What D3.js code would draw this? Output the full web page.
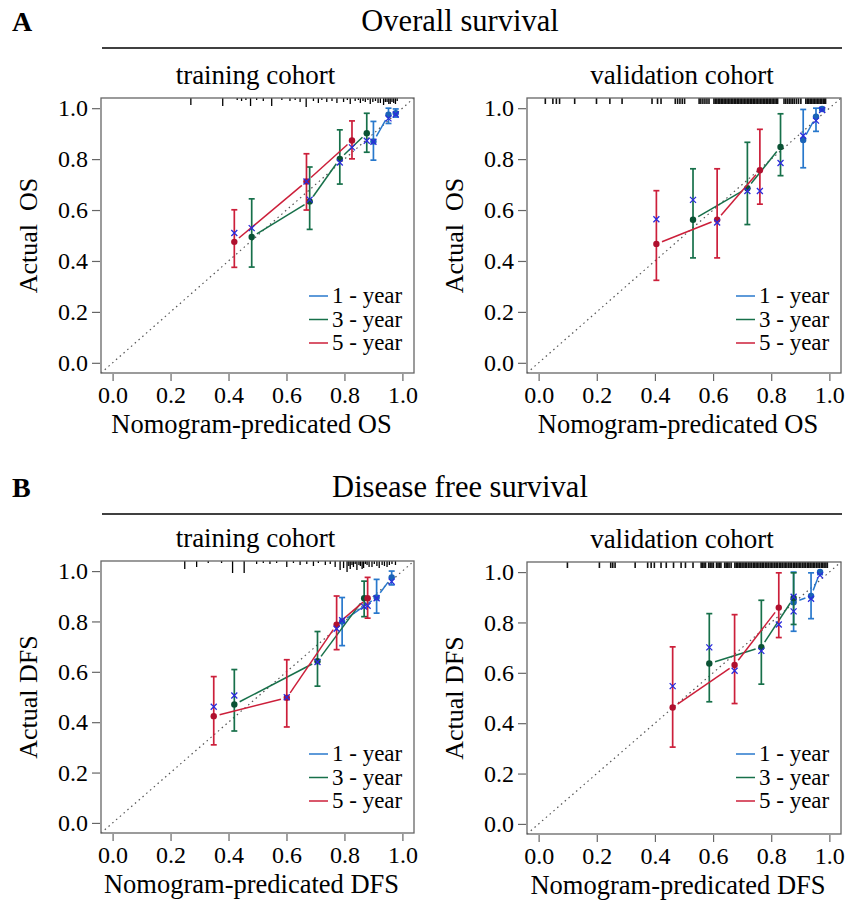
<!DOCTYPE html>
<html>
<head>
<meta charset="utf-8">
<script src="https://cdn.jsdelivr.net/npm/d3@7"></script>
<style>
body { margin: 0; background: #fff; }
text { font-family: "Liberation Serif", "Times New Roman", serif; fill: #000; }
</style>
</head>
<body>
<svg id="fig" width="846" height="913"></svg>
<script>
// rows: [predicted, observed, lower CI, upper CI, bias-corrected]
var osTrain1 = [[0.900, 0.869, 0.796, 0.948, 0.868], [0.952, 0.974, 0.940, 1.000, 0.960], [0.977, 0.980, 0.965, 0.997, 0.975]];
var osTrain3 = [[0.480, 0.494, 0.376, 0.644, 0.529], [0.680, 0.634, 0.524, 0.769, 0.641], [0.784, 0.801, 0.702, 0.915, 0.787], [0.877, 0.902, 0.827, 0.980, 0.872]];
var osTrain5 = [[0.420, 0.475, 0.375, 0.601, 0.510], [0.669, 0.712, 0.600, 0.821, 0.712], [0.826, 0.873, 0.801, 0.950, 0.846]];

var osValid1 = [[0.910, 0.875, 0.766, 0.995, 0.892], [0.954, 0.967, 0.909, 1.000, 0.951], [0.975, 0.997, 0.990, 1.000, 0.993]];
var osValid3 = [[0.531, 0.562, 0.412, 0.762, 0.640], [0.718, 0.686, 0.543, 0.866, 0.675], [0.832, 0.848, 0.735, 0.978, 0.785]];
var osValid5 = [[0.405, 0.467, 0.324, 0.676, 0.564], [0.614, 0.562, 0.412, 0.762, 0.551], [0.761, 0.756, 0.623, 0.917, 0.675]];

var dfsTrain1 = [[0.792, 0.800, 0.704, 0.895, 0.805], [0.911, 0.895, 0.833, 0.967, 0.892], [0.963, 0.975, 0.945, 1.000, 0.958]];
var dfsTrain3 = [[0.420, 0.470, 0.365, 0.609, 0.506], [0.707, 0.642, 0.543, 0.760, 0.639], [0.868, 0.892, 0.819, 0.960, 0.859]];
var dfsTrain5 = [[0.349, 0.424, 0.310, 0.581, 0.461], [0.601, 0.497, 0.381, 0.648, 0.499], [0.773, 0.787, 0.688, 0.901, 0.771], [0.880, 0.892, 0.813, 0.975, 0.862]];

var dfsValid1 = [[0.877, 0.880, 0.765, 1.000, 0.844], [0.937, 0.905, 0.815, 0.997, 0.894], [0.968, 1.000, 0.990, 1.000, 0.987]];
var dfsValid3 = [[0.587, 0.637, 0.485, 0.835, 0.701], [0.766, 0.702, 0.555, 0.888, 0.687], [0.877, 0.897, 0.792, 0.997, 0.902]];
var dfsValid5 = [[0.461, 0.462, 0.305, 0.703, 0.547], [0.674, 0.631, 0.478, 0.831, 0.608], [0.826, 0.859, 0.740, 0.997, 0.792]];

// rug of predicted values: [value, spike height]
var osTrainRug = [[0.27, 7], [0.38, 8], [0.43, 2], [0.445, 3], [0.46, 2], [0.476, 8], [0.497, 2], [0.52, 3], [0.549, 8],
    [0.584, 2], [0.612, 3], [0.63, 2], [0.647, 4], [0.668, 9], [0.693, 3], [0.71, 5], [0.722, 2], [0.739, 4], [0.757, 3],
    [0.774, 5], [0.797, 4], [0.81, 2], [0.82, 6], [0.837, 3], [0.848, 2], [0.855, 5], [0.864, 3], [0.872, 4], [0.881, 2],
    [0.889, 6], [0.898, 4], [0.907, 3], [0.916, 5], [0.924, 5], [0.935, 7], [0.941, 4], [0.947, 4], [0.953, 6], [0.958, 6],
    [0.964, 4], [0.97, 5], [0.976, 6], [0.982, 3]];
var dfsTrainRug = [[0.249, 8], [0.29, 6], [0.33, 2], [0.376, 2], [0.414, 12], [0.454, 12], [0.497, 3], [0.52, 2], [0.543, 3],
    [0.566, 2], [0.601, 6], [0.624, 2], [0.647, 4], [0.67, 3], [0.693, 5], [0.71, 2], [0.734, 4], [0.751, 3], [0.768, 6],
    [0.785, 9], [0.797, 7], [0.809, 11], [0.815, 5], [0.82, 8], [0.826, 4], [0.831, 6], [0.837, 3], [0.843, 9], [0.85, 4],
    [0.855, 5], [0.861, 8], [0.866, 7], [0.872, 3], [0.878, 4], [0.885, 6], [0.895, 6], [0.903, 3], [0.912, 5], [0.92, 7],
    [0.93, 4], [0.938, 5], [0.947, 6], [0.955, 4], [0.964, 3], [0.976, 4]];
var osValidRug = [0.023, 0.049, 0.061, 0.072, 0.124, 0.199, 0.245, 0.287, 0.39, 0.409, 0.421, 0.47, 0.478, 0.486, 0.494, 0.502,
    0.552, 0.558, 0.565, 0.572, 0.579, 0.586, 0.603, 0.608, 0.613, 0.618, 0.623, 0.628, 0.633, 0.638, 0.643, 0.648, 0.653,
    0.658, 0.663, 0.668, 0.673, 0.678, 0.683, 0.688, 0.693, 0.698, 0.703, 0.708, 0.713, 0.718, 0.723, 0.728, 0.733, 0.738,
    0.743, 0.748, 0.753, 0.758, 0.763, 0.768, 0.773, 0.778, 0.783, 0.788, 0.793, 0.798, 0.803, 0.808, 0.813, 0.818, 0.822,
    0.844, 0.85, 0.856, 0.862, 0.868, 0.874, 0.88, 0.887, 0.894, 0.902, 0.919, 0.924, 0.929, 0.934, 0.939, 0.944, 0.949,
    0.954, 0.959, 0.964, 0.969, 0.974, 0.979, 0.984, 0.987];
var dfsValidRug = [0.099, 0.209, 0.248, 0.255, 0.263, 0.332, 0.375, 0.387, 0.398, 0.421, 0.439, 0.464, 0.49, 0.505, 0.531,
    0.559, 0.564, 0.569, 0.574, 0.585, 0.59, 0.596, 0.601, 0.612, 0.617, 0.622, 0.627, 0.64, 0.645, 0.65, 0.655, 0.662,
    0.675, 0.68, 0.685, 0.69, 0.695, 0.7, 0.706, 0.711, 0.716, 0.722, 0.727, 0.732, 0.738, 0.743, 0.748, 0.753, 0.758,
    0.764, 0.769, 0.774, 0.78, 0.785, 0.79, 0.796, 0.801, 0.806, 0.812, 0.817, 0.822, 0.828, 0.833, 0.838, 0.844, 0.849,
    0.854, 0.86, 0.865, 0.87, 0.876, 0.881, 0.886, 0.892, 0.897, 0.902, 0.908, 0.913, 0.918, 0.924, 0.929, 0.934, 0.94,
    0.945, 0.95, 0.956, 0.961, 0.966, 0.972, 0.977, 0.982, 0.988, 0.993];

var axisTicks = [0, 0.2, 0.4, 0.6, 0.8, 1.0];
var legendLabels = ["1 - year", "3 - year", "5 - year"];
var lineColors = ["#2878cc", "#17704a", "#cc1f3a"];
var dotColors = ["#1a63b8", "#0a5234", "#b0102e"];
var crossColor = "#2b2bdc";
var serif = "'Liberation Serif', 'Times New Roman', serif";

var svg = d3.select("#fig");

function header(letter, title, yTop) {
    svg.append("text").attr("x", 12).attr("y", yTop).attr("font-size", 28).attr("font-weight", "bold").text(letter);
    svg.append("text").attr("x", 460).attr("y", yTop).attr("font-size", 30.5).attr("text-anchor", "middle").text(title);
    svg.append("line").attr("x1", 102).attr("x2", 842).attr("y1", yTop + 17).attr("y2", yTop + 17)
        .attr("stroke", "#000").attr("stroke-width", 1.5);
}

function drawPanel(p) {
    var x = d3.scaleLinear().domain([-0.04, 1.04]).range([p.left, p.right]);
    var y = d3.scaleLinear().domain([-0.04, 1.04]).range([p.bottom, p.top]);
    var g = svg.append("g");

    g.append("text").attr("x", (p.left + p.right) / 2 - 2).attr("y", p.top - 14)
        .attr("font-size", 27).attr("text-anchor", "middle").text(p.cohort);

    // diagonal reference
    g.append("line").attr("x1", x(-0.04)).attr("y1", y(-0.04)).attr("x2", x(1.04)).attr("y2", y(1.04))
        .attr("stroke", "#555").attr("stroke-width", 1.2).attr("stroke-dasharray", "1.5,3.5");

    // rug along the top
    if (p.spikes) {
        g.selectAll(".rug").data(p.rug).enter().append("line")
            .attr("x1", function (d) { return x(d[0]); })
            .attr("x2", function (d) { return x(d[0]); })
            .attr("y1", p.top)
            .attr("y2", function (d) { return p.top + d[1]; })
            .attr("stroke", "#000").attr("stroke-width", 1.3);
    } else {
        g.selectAll(".rug").data(p.rug).enter().append("line")
            .attr("x1", function (d) { return x(d); })
            .attr("x2", function (d) { return x(d); })
            .attr("y1", p.top)
            .attr("y2", p.top + 6)
            .attr("stroke", "#111").attr("stroke-width", 1.6);
    }

    p.series.forEach(function (s, k) {
        var col = lineColors[k];
        // lines with gaps round the points (type = "b")
        for (var i = 0; i < s.length - 1; i++) {
            var x0 = x(s[i][0]), y0 = y(s[i][1]), x1 = x(s[i + 1][0]), y1 = y(s[i + 1][1]);
            var len = Math.sqrt((x1 - x0) * (x1 - x0) + (y1 - y0) * (y1 - y0));
            var gap = 6;
            if (len <= 2 * gap) continue;
            var ux = (x1 - x0) / len, uy = (y1 - y0) / len;
            g.append("line").attr("x1", x0 + ux * gap).attr("y1", y0 + uy * gap)
                .attr("x2", x1 - ux * gap).attr("y2", y1 - uy * gap)
                .attr("stroke", col).attr("stroke-width", 1.5);
        }
        var bars = g.selectAll(".bar" + k).data(s).enter().append("g");
        bars.append("line")
            .attr("x1", function (d) { return x(d[0]); }).attr("x2", function (d) { return x(d[0]); })
            .attr("y1", function (d) { return y(d[2]); }).attr("y2", function (d) { return y(d[3]); })
            .attr("stroke", col).attr("stroke-width", 1.7);
        bars.append("line")
            .attr("x1", function (d) { return x(d[0]) - 3; }).attr("x2", function (d) { return x(d[0]) + 3; })
            .attr("y1", function (d) { return y(d[2]); }).attr("y2", function (d) { return y(d[2]); })
            .attr("stroke", col).attr("stroke-width", 1.7);
        bars.append("line")
            .attr("x1", function (d) { return x(d[0]) - 3; }).attr("x2", function (d) { return x(d[0]) + 3; })
            .attr("y1", function (d) { return y(d[3]); }).attr("y2", function (d) { return y(d[3]); })
            .attr("stroke", col).attr("stroke-width", 1.7);
        g.selectAll(".dot" + k).data(s).enter().append("circle")
            .attr("cx", function (d) { return x(d[0]); })
            .attr("cy", function (d) { return y(d[1]); })
            .attr("r", 3.2).attr("fill", dotColors[k]);
    });

    // bias-corrected estimates
    p.series.forEach(function (s) {
        s.forEach(function (d) {
            var cx = x(d[0]), cy = y(d[4]);
            g.append("path").attr("d", "M" + (cx - 3) + "," + (cy - 3) + "L" + (cx + 3) + "," + (cy + 3) +
                "M" + (cx - 3) + "," + (cy + 3) + "L" + (cx + 3) + "," + (cy - 3))
                .attr("stroke", crossColor).attr("stroke-width", 1.3).attr("fill", "none");
        });
    });

    // box
    g.append("rect").attr("x", p.left).attr("y", p.top)
        .attr("width", p.right - p.left).attr("height", p.bottom - p.top)
        .attr("fill", "none").attr("stroke", "#666").attr("stroke-width", 1.3);

    // axes
    var xAxis = d3.axisBottom(x).tickValues(axisTicks).tickFormat(d3.format(".1f")).tickSize(7).tickPadding(5);
    var ax = g.append("g").attr("transform", "translate(0," + (p.bottom + 1) + ")").call(xAxis);
    var yAxis = d3.axisLeft(y).tickValues(axisTicks).tickFormat(d3.format(".1f")).tickSize(8).tickPadding(4);
    var ay = g.append("g").attr("transform", "translate(" + (p.left - 1) + ",0)").call(yAxis);
    [ax, ay].forEach(function (a) {
        a.attr("font-family", serif).attr("font-size", 24);
        a.select(".domain").remove();
        a.selectAll(".tick line").attr("stroke", "#666").attr("stroke-width", 1.2);
        a.selectAll(".tick text").attr("fill", "#000");
    });

    g.append("text").attr("x", (p.left + p.right) / 2 - 6).attr("y", p.bottom + 60)
        .attr("font-size", 26.5).attr("text-anchor", "middle").text(p.xTitle);
    g.append("text").attr("transform", "translate(" + (p.left - 64) + "," + ((p.top + p.bottom) / 2) + ") rotate(-90)")
        .attr("font-size", 26).attr("text-anchor", "middle").attr("xml:space", "preserve").text(p.yTitle);

    // legend
    legendLabels.forEach(function (lab, k) {
        var ly = p.legendY + k * 23.5;
        g.append("line").attr("x1", p.right - 105).attr("x2", p.right - 86)
            .attr("y1", ly).attr("y2", ly).attr("stroke", lineColors[k]).attr("stroke-width", 1.5);
        g.append("text").attr("x", p.right - 82).attr("y", ly + 7).attr("font-size", 23).text(lab);
    });
}

header("A", "Overall survival", 31);
header("B", "Disease free survival", 497);

drawPanel({ left: 101, right: 414, top: 98, bottom: 373, cohort: "training cohort", rug: osTrainRug, spikes: true,
    series: [osTrain1, osTrain3, osTrain5], xTitle: "Nomogram-predicated OS", yTitle: "Actual  OS", legendY: 296 });
drawPanel({ left: 527, right: 841, top: 98, bottom: 373, cohort: "validation cohort", rug: osValidRug, spikes: false,
    series: [osValid1, osValid3, osValid5], xTitle: "Nomogram-predicated OS", yTitle: "Actual  OS", legendY: 296 });
drawPanel({ left: 101, right: 414, top: 561, bottom: 833, cohort: "training cohort", rug: dfsTrainRug, spikes: true,
    series: [dfsTrain1, dfsTrain3, dfsTrain5], xTitle: "Nomogram-predicated DFS", yTitle: "Actual DFS", legendY: 754 });
drawPanel({ left: 527, right: 841, top: 562, bottom: 834, cohort: "validation cohort", rug: dfsValidRug, spikes: false,
    series: [dfsValid1, dfsValid3, dfsValid5], xTitle: "Nomogram-predicated DFS", yTitle: "Actual DFS", legendY: 754 });
</script>
</body>
</html>
